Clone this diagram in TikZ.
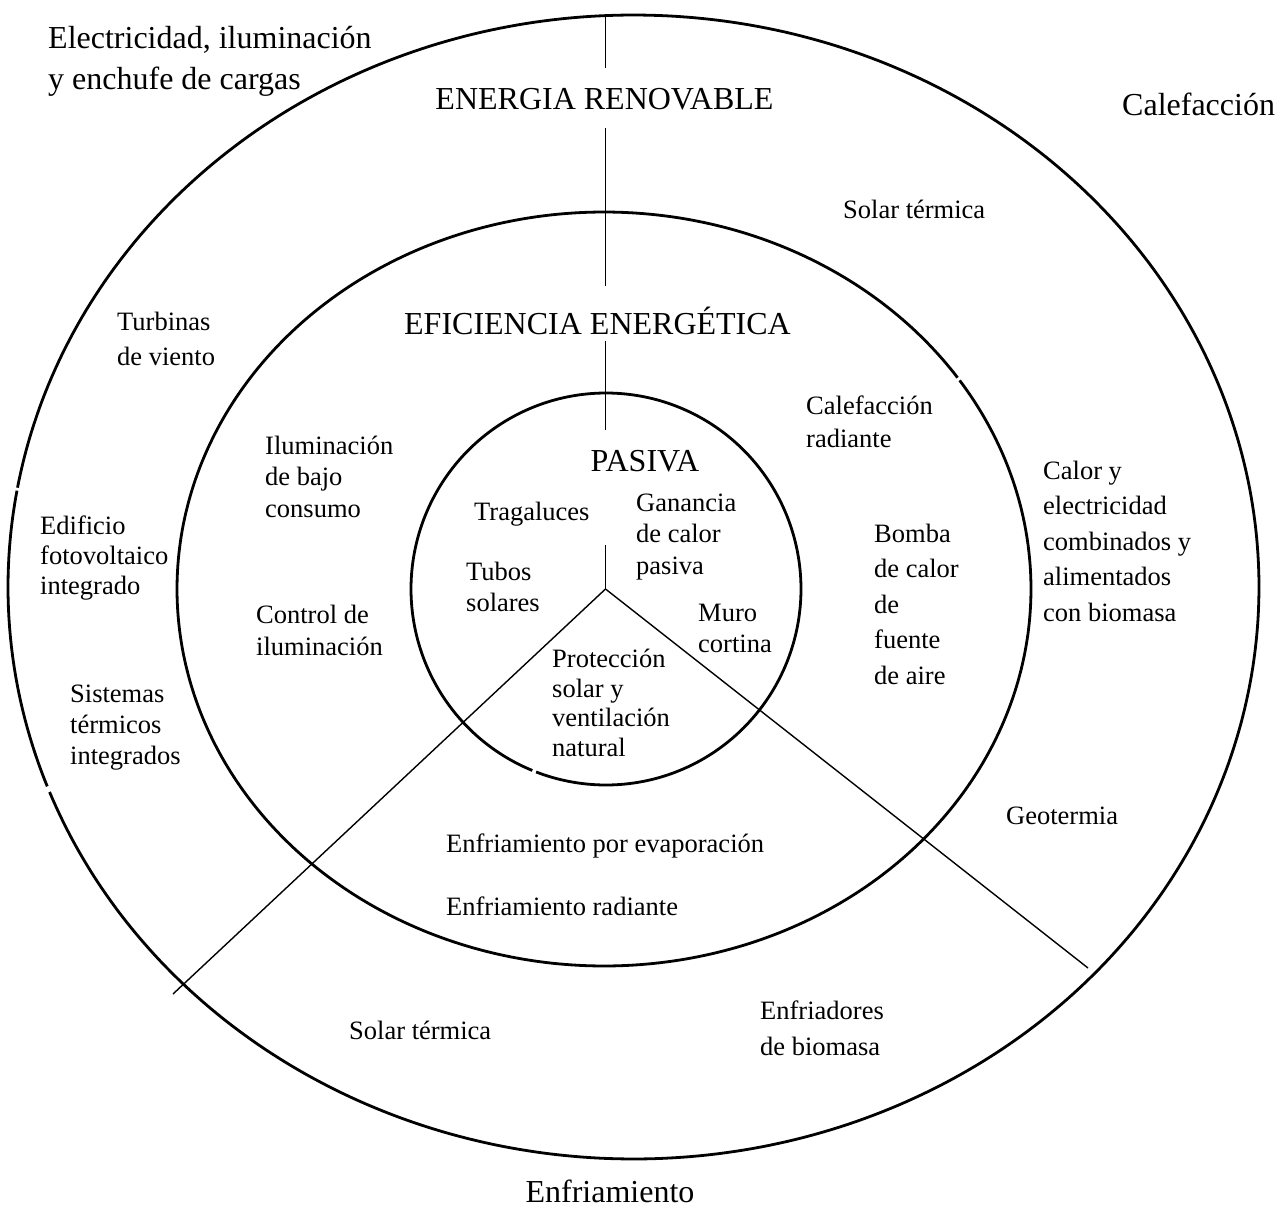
\documentclass[tikz,border=0pt]{standalone}
\usepackage{fontspec}
\setmainfont{Liberation Serif}
\begin{document}
\begin{tikzpicture}[x=1pt,y=-1pt,
  ring/.style={line width=2.8pt, line join=round},
  spoke/.style={line width=1.4pt},
  heading/.style={font=\fontsize{32}{41}\selectfont, inner sep=0pt},
  lbl/.style={font=\fontsize{26.5}{#1}\selectfont, align=left, anchor=base west, inner sep=0pt},
  lbl/.default=31.5]
\useasboundingbox (0,0) rectangle (1278,1207);

% outer ring: renewable energy
\draw[ring] plot[domain=190.0:519.0, samples=400] ({633.5+625.5*cos(\x)},{587+572*sin(\x)});
\draw[ring] plot[domain=159.6:189.7, samples=60] ({633.5+625.5*cos(\x)},{587+572*sin(\x)});
% middle ring: energy efficiency
\draw[ring] plot[domain=-33.6:325.9, samples=400] ({604+427*cos(\x)},{589+377*sin(\x)});
% inner ring: passive design
\draw[ring] plot[domain=112.2:471.0, samples=300] ({606+195*cos(\x)},{589+196*sin(\x)});

% spokes
\coordinate (outerTop) at (605.5,16);
\coordinate (r1) at (605.5,68);
\coordinate (r2) at (605.5,128);
\coordinate (r3) at (605.5,286);
\coordinate (r4) at (605.5,341);
\coordinate (r5) at (605.5,430);
\coordinate (r6) at (605.5,545);
\coordinate (hub) at (605.5,589);
\coordinate (swEnd) at (173,994);
\coordinate (seEnd) at (1088,968);
\draw[spoke] (outerTop) -- (r1);
\draw[spoke] (r2) -- (r3);
\draw[spoke] (r4) -- (r5);
\draw[spoke] (r6) -- (hub);
\draw[spoke] (hub) -- (swEnd);
\draw[spoke] (hub) -- (seEnd);

% sector and ring titles (multi-line nodes sit on the baseline of their last line)
\node[heading, anchor=base west, align=left] (elec) at (48,90) {Electricidad, iluminación\\y enchufe de cargas};
\node[heading, anchor=base west] (calef) at (1122,115) {Calefacción};
\node[heading, anchor=base] (enfri) at (610,1202) {Enfriamiento};
\node[heading, anchor=base] (renov) at (604.5,110) {ENERGIA RENOVABLE};
\node[heading, anchor=base] (efic) at (597.5,334) {EFICIENCIA ENERGÉTICA};
\node[heading, anchor=base] (pasiva) at (645,471) {PASIVA};

% outer ring labels
\node[lbl] (solarTop) at (843,218) {Solar térmica};
\node[lbl=35] (turb) at (117,365) {Turbinas\\de viento};
\node[lbl=30] (edif) at (40,594) {Edificio\\fotovoltaico\\integrado};
\node[lbl=31] (sist) at (70,764) {Sistemas\\térmicos\\integrados};
\node[lbl=35.5] (chp) at (1043,621) {Calor y\\electricidad\\combinados y\\alimentados\\con biomasa};
\node[lbl] (geo) at (1006,824) {Geotermia};
\node[lbl] (solarBot) at (349,1039) {Solar térmica};
\node[lbl=36] (enfriad) at (760,1055) {Enfriadores\\de biomasa};

% middle ring labels
\node[lbl] (ilum) at (265,517) {Iluminación\\de bajo\\consumo};
\node[lbl=32] (ctrl) at (256,655) {Control de\\iluminación};
\node[lbl=33] (calrad) at (806,447) {Calefacción\\radiante};
\node[lbl=35.5] (bomba) at (874,684) {Bomba\\de calor\\de\\fuente\\de aire};
\node[lbl] (evap) at (446,852) {Enfriamiento por evaporación};
\node[lbl] (enfrad) at (446,915) {Enfriamiento radiante};

% inner ring labels
\node[lbl] (trag) at (474,520) {Tragaluces};
\node[lbl] (ganancia) at (636,574) {Ganancia\\de calor\\pasiva};
\node[lbl=31] (tubos) at (466,611) {Tubos\\solares};
\node[lbl=31] (muro) at (698,652) {Muro\\cortina};
\node[lbl=29.5] (prot) at (552,756) {Protección\\solar y\\ventilación\\natural};
\end{tikzpicture}
\end{document}
